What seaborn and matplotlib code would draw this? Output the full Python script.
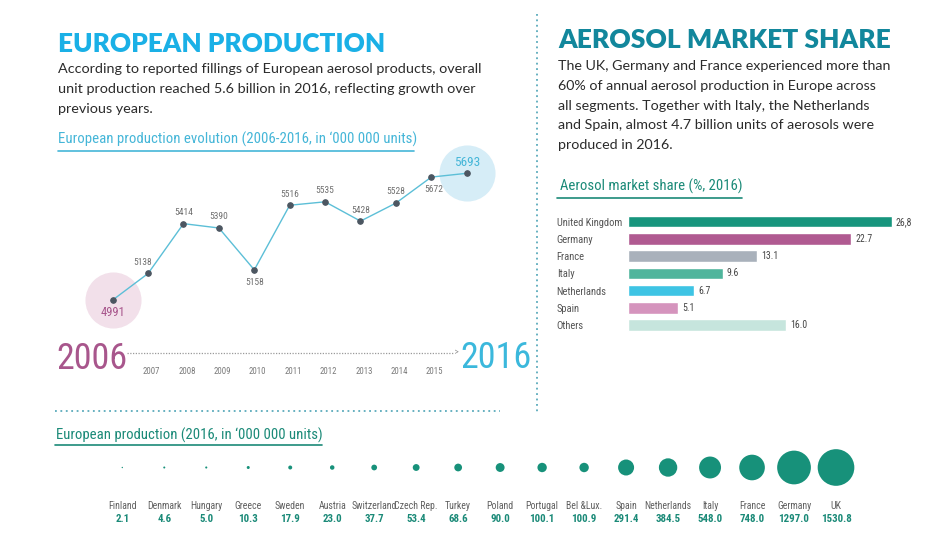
import matplotlib
matplotlib.use("Agg")
import matplotlib.pyplot as plt
from matplotlib import font_manager as fm
from matplotlib.lines import Line2D
import seaborn as sns

# ---- data ----
years = [2006, 2007, 2008, 2009, 2010, 2011, 2012, 2013, 2014, 2015, 2016]
production = [4991, 5138, 5414, 5390, 5158, 5516, 5535, 5428, 5528, 5672, 5693]

share_countries = ["United Kingdom", "Germany", "France", "Italy", "Netherlands", "Spain", "Others"]
share_values = [26.8, 22.7, 13.1, 9.6, 6.7, 5.1, 16.0]
share_labels = ["26,8", "22.7", "13.1", "9.6", "6.7", "5.1", "16.0"]
share_colors = ["#17957d", "#b05a91", "#a9b1bb", "#4fb59c", "#3ec4e4", "#d594bd", "#c6e5dd"]

prod_countries = ["Finland", "Denmark", "Hungary", "Greece", "Sweden", "Austria", "Switzerland",
                  "Czech Rep.", "Turkey", "Poland", "Portugal", "Bel &Lux.", "Spain", "Netherlands",
                  "Italy", "France", "Germany", "UK"]
prod_values = [2.1, 4.6, 5.0, 10.3, 17.9, 23.0, 37.7, 53.4, 68.6, 90.0, 100.1, 100.9,
               291.4, 384.5, 548.0, 748.0, 1297.0, 1530.8]

# ---- fonts ----
sns.set_theme(style="white")
_names = {f.name for f in fm.fontManager.ttflist}
if "Liberation Sans Narrow" in _names:
    NARROW = dict(family="Liberation Sans Narrow")
elif "Roboto Condensed" in _names:
    NARROW = dict(family="Roboto Condensed")
elif any(f.name == "DejaVu Sans" and f.stretch == "condensed" for f in fm.fontManager.ttflist):
    NARROW = dict(family="DejaVu Sans", stretch="condensed")
else:
    NARROW = dict(family="Roboto")
BODY = "Lato" if "Lato" in _names else "DejaVu Sans"
plt.rcParams["font.family"] = [BODY, "DejaVu Sans"]

CYAN = "#1ab0e6"
TEAL_T = "#12879c"
TEAL = "#1b8a78"
PINK = "#a8568c"
LBLUE = "#45b6d8"
DARK = "#2b2b2b"

W, H = 952, 537
fig = plt.figure(figsize=(W / 100, H / 100), dpi=100)
fig.patch.set_facecolor("white")


def fx(x):
    return x / W


def fy(y):
    return 1 - y / H


renderer = fig.canvas.get_renderer()


def fit(t, width_px):
    cur = t.get_window_extent(renderer).width
    t.set_fontsize(t.get_fontsize() * width_px / cur)
    return t


def hline(x0, x1, y, color, lw=1.2, ls="-"):
    fig.add_artist(Line2D([fx(x0), fx(x1)], [fy(y), fy(y)], color=color, lw=lw, ls=ls,
                          transform=fig.transFigure))


# ---- headings and paragraphs ----
t = fig.text(fx(58), fy(51.7), "EUROPEAN PRODUCTION", color=CYAN, fontweight="heavy", fontsize=20)
fit(t, 327)
t = fig.text(fx(558), fy(48.3), "AEROSOL MARKET SHARE", color=TEAL_T, fontweight="heavy", fontsize=20)
fit(t, 332)

left_par = ["According to reported fillings of European aerosol products, overall",
            "unit production reached 5.6 billion in 2016, reflecting growth over",
            "previous years."]
t0 = fig.text(fx(58), fy(73), left_par[0], color=DARK, fontsize=10)
fit(t0, 425)
for i, line in enumerate(left_par[1:], 1):
    fig.text(fx(58), fy(73 + 20 * i), line, color=DARK, fontsize=t0.get_fontsize())

right_par = ["The UK, Germany and France experienced more than",
             "60% of annual aerosol production in Europe across",
             "all segments. Together with Italy, the Netherlands",
             "and Spain, almost 4.7 billion units of aerosols were",
             "produced in 2016."]
t0 = fig.text(fx(558), fy(70), right_par[0], color=DARK, fontsize=10)
fit(t0, 334)
for i, line in enumerate(right_par[1:], 1):
    fig.text(fx(558), fy(70 + 19.8 * i), line, color=DARK, fontsize=t0.get_fontsize())

t = fig.text(fx(58), fy(143.5), "European production evolution (2006-2016, in \u2018000 000 units)",
             color=LBLUE, fontsize=10, **NARROW)
fit(t, 355)
hline(58, 414, 151, LBLUE)

t = fig.text(fx(560), fy(190.7), "Aerosol market share (%, 2016)", color=TEAL, fontsize=10, **NARROW)
fit(t, 181)
hline(557, 742, 197.7, TEAL)

t = fig.text(fx(56), fy(439.5), "European production (2016, in \u2018000 000 units)", color=TEAL,
             fontsize=10, **NARROW)
fit(t, 262)
hline(55, 322, 445, TEAL)

# separators
fig.add_artist(Line2D([fx(537), fx(537)], [fy(14), fy(412)], color="#5aaabb", lw=1.3,
                      ls=(0, (1, 2)), transform=fig.transFigure))
hline(55, 500, 411, "#5aaabb", lw=1.3, ls=(0, (1, 2)))

# ---- production evolution line ----
ax1 = fig.add_axes([fx(112.7), fy(300), (466.7 - 112.7) / W, (300 - 173.3) / H])
ax1.set_facecolor("none")
ax1.scatter([years[0]], [production[0]], s=1630, color="#f2e0ea", zorder=0, clip_on=False, linewidths=0)
ax1.scatter([years[-1]], [production[-1]], s=1630, color="#d6edf7", zorder=0, clip_on=False, linewidths=0)
sns.lineplot(x=years, y=production, ax=ax1, color="#5cbfd7", lw=1.0, marker="o", markersize=4,
             markerfacecolor="#4c5661", markeredgecolor="#4c5661", zorder=3)
for ln in ax1.lines:
    ln.set_clip_on(False)
ax1.set_xlim(years[0], years[-1])
ax1.set_ylim(min(production), max(production))
ax1.axis("off")

below = {2006, 2010, 2015}
for yr, v in zip(years, production):
    dy = -9 if yr in below else 8
    dx = 2 if yr == 2015 else (-4 if yr == 2007 else 0)
    if yr == years[0]:
        kw = dict(color=PINK, fontsize=9)
    elif yr == years[-1]:
        kw = dict(color=LBLUE, fontsize=9.5)
    else:
        kw = dict(color="#707070", fontsize=6.8)
    ax1.annotate(str(v), (yr, v), xytext=(dx, dy), textcoords="offset points",
                 ha="center", va="center", annotation_clip=False, **kw, **NARROW)

for yr in years[1:-1]:
    ax1.annotate(str(yr), (yr, fy(371)), xycoords=("data", "figure fraction"), xytext=(2.5, 0),
                 textcoords="offset points", ha="center", va="center", fontsize=6.3,
                 color="#7a7a7a", annotation_clip=False, **NARROW)

fig.text(fx(91.5), fy(359), str(years[0]), color=PINK, fontsize=26, ha="center", va="center", **NARROW)
fig.text(fx(495.5), fy(358), str(years[-1]), color="#3bb8dc", fontsize=26, ha="center", va="center",
         **NARROW)
hline(127, 454, 352.7, "#9a9a9a", lw=0.9, ls=(0, (1, 1.2)))
fig.text(fx(456.5), fy(352.7), ">", color="#8a8a8a", fontsize=6.5, ha="center", va="center")

# ---- market share bars ----
ax2 = fig.add_axes([fx(628.3), fy(333.6), (923.2 - 628.3) / W, (333.6 - 213.1) / H])
ax2.set_facecolor("none")
sns.barplot(x=share_values, y=share_countries, hue=share_countries, palette=share_colors,
            legend=False, saturation=1, width=0.67, ax=ax2, orient="h")
ax2.set_xlim(0, 30)
ax2.set_ylim(len(share_countries) - 0.5, -0.5)
sns.despine(ax=ax2, left=True, bottom=True)
ax2.set_xticks([])
ax2.set_xlabel("")
ax2.set_ylabel("")
ax2.tick_params(axis="y", length=0, pad=51.6)
for lbl in ax2.get_yticklabels():
    lbl.set_ha("left")
    lbl.set_color("#555555")
    lbl.set_fontproperties(fm.FontProperties(size=7.6, **NARROW))
for i, (v, s) in enumerate(zip(share_values, share_labels)):
    ax2.annotate(s, (v, i), xytext=(3, 0), textcoords="offset points", va="center", ha="left",
                 fontsize=7, color="#444444", **NARROW)

# ---- production bubbles ----
ax3 = fig.add_axes([fx(101.3), fy(490), (857 - 101.3) / W, 45 / H])
ax3.set_facecolor("none")
k = 0.455
sns.scatterplot(x=list(range(len(prod_values))), y=[0] * len(prod_values), size=prod_values,
                sizes=(k * min(prod_values), k * max(prod_values)),
                size_norm=(min(prod_values), max(prod_values)),
                color="#17917a", linewidth=0, legend=False, ax=ax3, clip_on=False)
ax3.set_xlim(-0.5, len(prod_values) - 0.5)
ax3.set_ylim(-1, 1)
ax3.axis("off")
for i, (c, v) in enumerate(zip(prod_countries, prod_values)):
    ax3.annotate(c, (i, fy(506)), xycoords=("data", "figure fraction"), ha="center", va="center",
                 fontsize=7.1, color="#606060", annotation_clip=False, **NARROW)
    ax3.annotate(f"{v:.1f}", (i, fy(519.5)), xycoords=("data", "figure fraction"), ha="center",
                 va="center", fontsize=7.8, color=TEAL, fontweight="bold", annotation_clip=False,
                 **NARROW)

fig.savefig("out.png", dpi=100, facecolor="white")
